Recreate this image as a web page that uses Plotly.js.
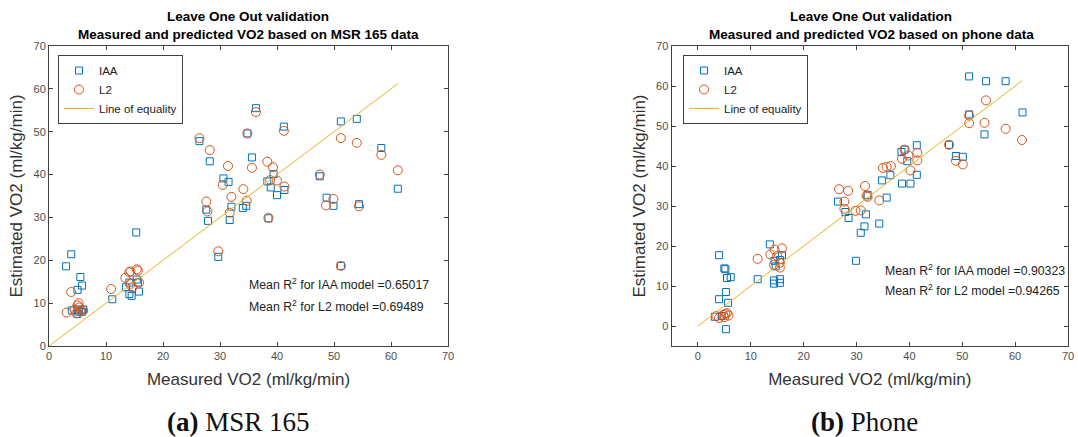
<!DOCTYPE html>
<html>
<head>
<meta charset="utf-8">
<script src="https://cdn.plot.ly/plotly-3.0.1.min.js"></script>
<style>html,body{margin:0;padding:0;background:#fff;}#chart{width:1078px;height:437px;}</style>
</head>
<body>
<div id="chart"></div>
<script>
// ---- Panel (a): MSR 165 ----
var msrIaaX = [26.4, 28.2, 30.6, 31.5, 27.6, 27.9, 32.0, 31.7, 34.6, 34.0, 34.8, 36.3, 35.6, 38.5, 38.3, 38.9, 41.2, 39.4, 40.0, 41.3, 47.5, 51.2, 54.0, 58.3, 61.2, 48.7, 49.9, 54.4, 51.2, 15.3, 3.9, 3.0, 29.7, 5.5, 5.8, 5.0, 11.1, 13.5, 14.1, 14.1, 14.5, 15.6, 15.8, 15.4, 4.0, 5.0, 5.3, 5.8, 6.0, 5.0];
var msrIaaY = [47.8, 43.1, 39.1, 38.3, 31.8, 29.2, 32.5, 29.4, 32.7, 32.2, 49.6, 55.5, 44.0, 29.8, 38.4, 37.0, 51.2, 40.1, 35.2, 36.4, 39.6, 52.4, 53.0, 46.2, 36.7, 34.6, 32.7, 33.1, 18.7, 26.5, 21.4, 18.6, 20.8, 16.1, 14.1, 13.1, 10.9, 13.7, 14.8, 12.1, 11.7, 14.8, 12.7, 15.5, 8.3, 7.5, 8.0, 8.0, 8.5, 8.5];
var msrL2X = [26.4, 28.2, 31.4, 30.5, 32.0, 27.6, 27.8, 31.7, 34.1, 34.7, 34.8, 36.3, 35.6, 38.3, 38.5, 39.3, 38.8, 40.0, 41.3, 41.2, 47.5, 51.2, 54.0, 58.3, 61.2, 49.9, 48.6, 54.4, 51.2, 29.7, 3.9, 5.2, 10.9, 13.4, 14.1, 14.3, 15.4, 15.6, 15.8, 14.3, 14.6, 3.1, 4.5, 5.0, 5.3, 5.5, 6.0, 4.8];
var msrL2Y = [48.5, 45.7, 42.0, 37.6, 34.8, 33.7, 31.4, 31.1, 36.6, 33.9, 49.6, 54.6, 41.6, 43.0, 29.9, 41.7, 38.7, 38.6, 37.2, 50.2, 40.0, 48.5, 47.4, 44.6, 41.0, 34.3, 32.8, 32.6, 18.7, 22.1, 12.6, 10.0, 13.3, 15.9, 17.2, 17.4, 17.9, 17.6, 14.8, 14.5, 13.7, 7.8, 8.5, 9.5, 9.0, 8.2, 8.3, 7.6];
var msrEqX = [0, 61.3];
var msrEqY = [0, 61.3];

// ---- Panel (b): Phone ----
var phIaaX = [51.3, 54.5, 58.2, 61.4, 51.3, 54.2, 47.5, 48.8, 50.1, 41.4, 39.1, 38.5, 39.6, 41.4, 36.4, 38.6, 40.2, 34.8, 32.1, 35.7, 26.5, 27.9, 28.5, 31.8, 31.5, 30.8, 34.3, 29.9, 13.6, 15.9, 14.5, 15.5, 14.7, 11.3, 14.4, 14.4, 15.5, 15.5, 4.0, 5.0, 5.2, 5.5, 6.2, 5.3, 4.0, 5.7, 3.2, 4.5, 5.3];
var phIaaY = [62.4, 61.2, 61.2, 53.4, 52.9, 47.9, 45.3, 42.5, 42.3, 45.2, 44.1, 43.5, 41.2, 37.8, 37.7, 35.6, 35.6, 36.4, 32.8, 32.1, 31.1, 28.5, 27.0, 27.9, 24.9, 23.3, 25.6, 16.3, 20.4, 17.7, 16.3, 16.5, 14.9, 11.7, 11.4, 10.6, 11.7, 10.8, 17.7, 14.4, 14.2, 12.0, 12.2, 8.5, 6.7, 5.8, 2.3, 2.5, -0.8];
var phL2X = [54.5, 51.3, 51.3, 54.2, 58.2, 61.3, 47.5, 48.8, 50.1, 41.5, 41.5, 39.1, 39.8, 38.6, 40.2, 35.0, 35.7, 36.5, 26.7, 28.4, 31.6, 31.9, 32.1, 34.3, 27.7, 27.7, 29.8, 30.8, 15.9, 14.5, 13.7, 15.0, 11.3, 14.4, 15.5, 15.5, 3.5, 4.0, 4.8, 5.2, 5.5, 5.0, 5.8];
var phL2Y = [56.4, 52.6, 50.7, 50.8, 49.3, 46.5, 45.3, 41.3, 40.4, 43.3, 41.4, 44.1, 42.6, 41.8, 38.9, 39.5, 39.8, 40.0, 34.2, 33.8, 35.0, 32.6, 32.3, 31.4, 31.1, 29.3, 28.8, 28.9, 19.4, 19.1, 17.9, 17.5, 16.8, 15.3, 15.8, 14.6, 2.5, 2.0, 2.8, 3.0, 3.2, 2.2, 2.6];
var phEqX = [0, 61.3];
var phEqY = [0, 61.3];

// ---- Text ----
var seriesNames = ["IAA", "L2", "Line of equality"];
var title1 = "Leave One Out validation";
var msrTitle2 = "Measured and predicted VO2 based on MSR 165 data";
var phTitle2 = "Measured and predicted VO2 based on phone data";
var xTitle = "Measured VO2 (ml/kg/min)";
var yTitle = "Estimated VO2 (ml/kg/min)";
var msrR2 = ["Mean R<sup>2</sup> for IAA model =0.65017", "Mean R<sup>2</sup> for L2 model =0.69489"];
var phR2 = ["Mean R<sup>2</sup> for IAA model =0.90323", "Mean R<sup>2</sup> for L2 model =0.94265"];
var captions = ["<b>(a)</b> MSR 165", "<b>(b)</b> Phone"];
var tickVals = [0, 10, 20, 30, 40, 50, 60, 70];

var BLUE = "#0072BD", ORANGE = "#D95319", YELLOW = "#EDB120";
var SANS = "Liberation Sans, Arial, sans-serif";
var AX = "#404040";

function sq(x, y, name, xa, ya, lg) {
  return {x: x, y: y, type: "scatter", mode: "markers", name: name, xaxis: xa, yaxis: ya, legend: lg,
    marker: {symbol: "square-open", size: 7, color: BLUE, line: {width: 1, color: BLUE}}};
}
function ci(x, y, name, xa, ya, lg) {
  return {x: x, y: y, type: "scatter", mode: "markers", name: name, xaxis: xa, yaxis: ya, legend: lg,
    marker: {symbol: "circle-open", size: 9, color: ORANGE, line: {width: 1, color: ORANGE}}};
}
function eq(x, y, name, xa, ya, lg) {
  return {x: x, y: y, type: "scatter", mode: "lines", name: name, xaxis: xa, yaxis: ya, legend: lg,
    line: {color: YELLOW, width: 1}};
}

var data = [
  sq(msrIaaX, msrIaaY, seriesNames[0], "x", "y", "legend"),
  ci(msrL2X, msrL2Y, seriesNames[1], "x", "y", "legend"),
  eq(msrEqX, msrEqY, seriesNames[2], "x", "y", "legend"),
  sq(phIaaX, phIaaY, seriesNames[0], "x2", "y2", "legend2"),
  ci(phL2X, phL2Y, seriesNames[1], "x2", "y2", "legend2"),
  eq(phEqX, phEqY, seriesNames[2], "x2", "y2", "legend2")
];

function axis(range, domain, anchor, title, standoff) {
  return {
    range: range, domain: domain, anchor: anchor, tickvals: tickVals,
    ticks: "inside", ticklen: 4, tickcolor: AX, tickwidth: 1,
    showline: true, linecolor: AX, linewidth: 1, mirror: "ticks",
    showgrid: false, zeroline: false, fixedrange: true,
    tickfont: {family: SANS, size: 11, color: "#4d4d4d"},
    title: {text: title, font: {family: SANS, size: 17, color: "#333"}, standoff: standoff}
  };
}

function txt(x, y, text, size, anchor, family, color) {
  return {xref: "paper", yref: "paper", x: x / 1078, y: 1 - y / 437, text: text, showarrow: false,
    xanchor: anchor, yanchor: "middle", font: {family: family, size: size, color: color}};
}

var yDom = [1 - 346/437, 1 - 46/437];
var legendStyle = function (xpx) {
  return {x: xpx / 1078, y: 1 - 55/437, xanchor: "left", yanchor: "top", bgcolor: "#fff",
    bordercolor: AX, borderwidth: 1, font: {family: SANS, size: 11.5, color: "#222"}};
};
var layout = {
  width: 1078, height: 437,
  margin: {l: 0, r: 0, t: 0, b: 0},
  paper_bgcolor: "#fff", plot_bgcolor: "#fff",
  xaxis: axis([0, 70], [49/1078, 448/1078], "y", xTitle, 11),
  yaxis: axis([0, 70], yDom, "x", yTitle, 6),
  xaxis2: axis([-5, 70], [671.5/1078, 1068/1078], "y2", xTitle, 11),
  yaxis2: axis([-5, 70], yDom, "x2", yTitle, 6),
  legend: legendStyle(58),
  legend2: legendStyle(683),
  annotations: [
    txt(248, 17, "<b>" + title1 + "</b>", 13.5, "center", SANS, "#000"),
    txt(248, 35, "<b>" + msrTitle2 + "</b>", 13.5, "center", SANS, "#000"),
    txt(871, 17, "<b>" + title1 + "</b>", 13.5, "center", SANS, "#000"),
    txt(871, 35, "<b>" + phTitle2 + "</b>", 13.5, "center", SANS, "#000"),
    txt(247, 284, msrR2[0], 12.3, "left", SANS, "#222"),
    txt(247, 306, msrR2[1], 12.3, "left", SANS, "#222"),
    txt(883, 270, phR2[0], 12.3, "left", SANS, "#222"),
    txt(883, 290, phR2[1], 12.3, "left", SANS, "#222"),
    txt(238, 422, captions[0], 27, "center", "Liberation Serif, serif", "#111"),
    txt(864, 422, captions[1], 27, "center", "Liberation Serif, serif", "#111")
  ]
};

Plotly.newPlot("chart", data, layout, {displayModeBar: false, staticPlot: true});
</script>
</body>
</html>
